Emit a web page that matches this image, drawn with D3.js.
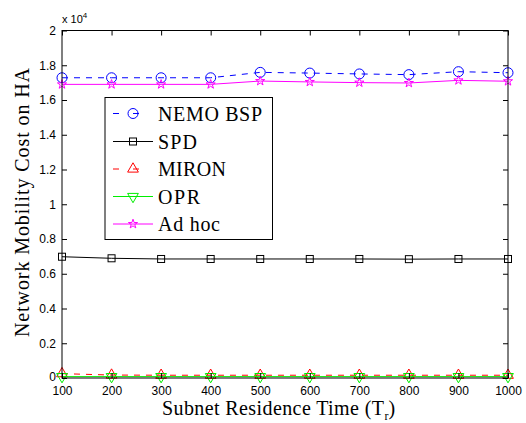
<!DOCTYPE html>
<html><head><meta charset="utf-8">
<script src="https://cdn.jsdelivr.net/npm/d3@7"></script>
<style>body{margin:0;background:#fff}svg{display:block}</style>
</head><body>
<svg id="c" width="526" height="423"></svg>
<script>
const xValues = [100,200,300,400,500,600,700,800,900,1000];
const nemoBSP = [1.728,1.728,1.728,1.728,1.759,1.755,1.750,1.746,1.763,1.757];
const spd     = [0.698,0.689,0.685,0.685,0.685,0.685,0.685,0.684,0.685,0.685];
const miron   = [0.025,0.017,0.016,0.016,0.016,0.016,0.016,0.016,0.016,0.016];
const opr     = [0.008,0.008,0.008,0.008,0.008,0.008,0.008,0.008,0.008,0.008];
const adHoc   = [1.690,1.690,1.690,1.690,1.709,1.704,1.700,1.698,1.713,1.708];
const yTicks = [0,0.2,0.4,0.6,0.8,1,1.2,1.4,1.6,1.8,2];
const seriesNames = ["NEMO BSP","SPD","MIRON","OPR","Ad hoc"];

const series = [
  {name:seriesNames[0], v:nemoBSP, color:"#0000ff", dash:"6,6", marker:"circle", tl:104},
  {name:seriesNames[1], v:spd, color:"#000000", dash:null, marker:"square", tl:39},
  {name:seriesNames[2], v:miron, color:"#ff0000", dash:"6,6", marker:"triUp", tl:68},
  {name:seriesNames[3], v:opr, color:"#00ee00", dash:null, marker:"triDown", tl:42},
  {name:seriesNames[4], v:adHoc, color:"#ff00ff", dash:null, marker:"star", tl:62}
];

const svg = d3.select("#c");
const L=62, R=508, T=30.5, B=378;
const x = d3.scaleLinear().domain([100,1000]).range([L,R]);
const y = d3.scaleLinear().domain([0,2]).range([B,T]);

const line = d3.line().x((d,i)=>x(xValues[i])).y(d=>y(d));
function marker(g, type, cx, cy, color){
  if(type==="circle") g.append("circle").attr("cx",cx).attr("cy",cy).attr("r",5).attr("fill","none").attr("stroke",color).attr("stroke-width",1);
  else if(type==="square") g.append("rect").attr("x",cx-3.5).attr("y",cy-3.5).attr("width",7).attr("height",7).attr("fill","none").attr("stroke",color).attr("stroke-width",1);
  else if(type==="triUp") g.append("path").attr("d",d3.symbol(d3.symbolTriangle,50)()).attr("transform",`translate(${cx},${cy})`).attr("fill","none").attr("stroke",color);
  else if(type==="triDown") g.append("path").attr("d",d3.symbol(d3.symbolTriangle,50)()).attr("transform",`translate(${cx},${cy}) rotate(180)`).attr("fill","none").attr("stroke",color);
  else if(type==="star") g.append("path").attr("d",d3.symbol(d3.symbolStar,26)()).attr("transform",`translate(${cx},${cy})`).attr("fill","none").attr("stroke",color);
}
const plot = svg.append("g");
series.forEach(s=>{
  plot.append("path").attr("d",line(s.v)).attr("fill","none").attr("stroke",s.color).attr("stroke-width",1)
    .attr("stroke-dasharray",s.dash);
  s.v.forEach((v,i)=>marker(plot,s.marker,x(xValues[i]),y(v),s.color));
});

svg.append("rect").attr("x",L).attr("y",T).attr("width",R-L).attr("height",B-T).attr("fill","none").attr("stroke","#000").attr("stroke-width",1);
const fontAx = "Liberation Sans, Arial, sans-serif";
const xa = svg.append("g").attr("transform",`translate(0,${B})`).call(d3.axisBottom(x).tickValues(xValues).tickSize(-5).tickPadding(8).tickFormat(d3.format("d")));
const xt = svg.append("g").attr("transform",`translate(0,${T})`).call(d3.axisTop(x).tickValues(xValues).tickSize(-5).tickFormat(""));
const ya = svg.append("g").attr("transform",`translate(${L},0)`).call(d3.axisLeft(y).tickValues(yTicks).tickSize(-5).tickPadding(6).tickFormat(d=>d3.format("~g")(d)));
const yr = svg.append("g").attr("transform",`translate(${R},0)`).call(d3.axisRight(y).tickValues(yTicks).tickSize(-5).tickFormat(""));
[xa,xt,ya,yr].forEach(g=>{g.select(".domain").remove();g.selectAll("line").attr("stroke","#000");g.selectAll("text").attr("fill","#000").style("font-family",fontAx).style("font-size","12px");});
ya.selectAll(".tick text").filter(d=>d===0).attr("dy","0.2em");

const ex = svg.append("text").attr("x",62).attr("y",23).style("font-family",fontAx).style("font-size","11px").attr("fill","#000");
ex.append("tspan").text("x 10");
ex.append("tspan").attr("dy",-5).style("font-size","8px").text("4");

const serif = "Liberation Serif, Times New Roman, serif";
const xl = svg.append("text").attr("x",162).attr("y",415).style("font-family",serif).style("font-size","20px").attr("fill","#000");
xl.append("tspan").attr("textLength",222).attr("lengthAdjust","spacing").text("Subnet Residence Time (T");
xl.append("tspan").attr("dy",5).style("font-size","12px").text("r");
xl.append("tspan").attr("dy",-5).text(")");
svg.append("text").attr("transform","translate(29,337) rotate(-90)").style("font-family",serif).style("font-size","20px").attr("fill","#000")
  .attr("textLength",269).attr("lengthAdjust","spacing").text("Network Mobility Cost on HA");

const lg = svg.append("g");
lg.append("rect").attr("x",105).attr("y",97.5).attr("width",167.5).attr("height",142).attr("fill","#fff").attr("stroke","#000").attr("stroke-width",1);
const ly = [113.5,141.5,169,196.5,224];
series.forEach((s,i)=>{
  lg.append("line").attr("x1",113).attr("x2",153).attr("y1",ly[i]).attr("y2",ly[i]).attr("stroke",s.color).attr("stroke-dasharray",s.dash?"6,14":null);
  marker(lg,s.marker,133,ly[i],s.color);
  lg.append("text").attr("x",158).attr("y",ly[i]+7).style("font-family",serif).style("font-size","20px").attr("fill","#000")
    .attr("textLength",s.tl).attr("lengthAdjust","spacing").text(s.name);
});
</script>
</body></html>
